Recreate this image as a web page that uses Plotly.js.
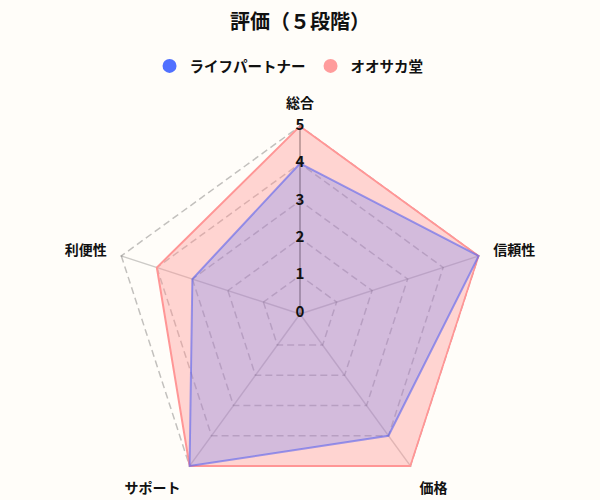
<!DOCTYPE html>
<html>
<head>
<meta charset="utf-8">
<script src="https://cdn.plot.ly/plotly-3.0.1.min.js"></script>
<style>
html,body{margin:0;padding:0;background:#fffdf9;overflow:hidden;width:600px;height:500px;}
#chart{width:600px;height:510px;}
</style>
</head>
<body>
<div id="chart"></div>
<script>
const categories = ['総合', '信頼性', '価格', 'サポート', '利便性'];
const lifePartner = [4, 5, 4, 5, 3];
const osakaDo = [5, 5, 5, 5, 4];
const seriesNames = ['ライフパートナー', 'オオサカ堂'];
const tickValues = [0, 1, 2, 3, 4, 5];
const tickLabels = ['0', '1', '2', '3', '4', '5'];

const FONT = '"Noto Sans CJK JP", "Noto Sans", sans-serif';
const closeLoop = a => a.concat([a[0]]);
const RANGE = [-0.03, 5.03];

const traces = [
  {
    type: 'scatterpolar', r: closeLoop(osakaDo), theta: closeLoop(categories),
    mode: 'lines', fill: 'toself', fillcolor: 'rgba(255,150,150,0.4)',
    line: {color: 'rgba(255,150,150,1)', width: 2}, showlegend: false, hoverinfo: 'skip'
  },
  {
    type: 'scatterpolar', r: closeLoop(lifePartner), theta: closeLoop(categories),
    mode: 'lines', fill: 'toself', fillcolor: 'rgba(80,110,255,0.25)',
    line: {color: 'rgba(90,100,240,0.6)', width: 2}, showlegend: false, hoverinfo: 'skip'
  },
  {
    type: 'scatterpolar', r: [null], theta: [null], mode: 'markers', name: seriesNames[0],
    marker: {color: '#5070ff', size: 14}
  },
  {
    type: 'scatterpolar', r: [null], theta: [null], mode: 'markers', name: seriesNames[1],
    marker: {color: '#ff9c9c', size: 14}
  },
  {
    type: 'scatterpolar', subplot: 'polar2',
    r: tickValues, theta: tickValues.map(() => categories[0]),
    mode: 'text', text: tickLabels, textposition: 'middle center',
    textfont: {family: FONT, size: 15, color: '#111', weight: 'bold'},
    showlegend: false, hoverinfo: 'skip', cliponaxis: false
  }
];

const layout = {
  width: 600, height: 510,
  paper_bgcolor: '#fffdf9', plot_bgcolor: '#fffdf9',
  margin: {l: 111, r: 111, t: 125, b: 7},
  font: {family: FONT, color: '#111'},
  title: {
    text: '評価（５段階）', x: 0.5, xanchor: 'center',
    y: 1 - 22 / 510, yref: 'container', yanchor: 'middle',
    font: {family: FONT, size: 20, color: '#111', weight: 'bold'}
  },
  legend: {
    orientation: 'h', x: 0.471, xanchor: 'center', y: (503 - 66) / 378, yanchor: 'middle',
    font: {family: FONT, size: 14.5, color: '#111', weight: 'bold'},
    itemclick: false, bgcolor: 'rgba(0,0,0,0)'
  },
  polar: {
    bgcolor: 'rgba(0,0,0,0)',
    gridshape: 'linear',
    domain: {x: [0, 1], y: [0, 1]},
    radialaxis: {
      range: RANGE, tickvals: tickValues, showticklabels: false, ticks: '',
      showline: true, linecolor: 'rgba(0,0,0,0.2)', linewidth: 1.5, angle: 90,
      gridcolor: 'rgba(0,0,0,0.24)', griddash: '7px,4px', gridwidth: 1.5
    },
    angularaxis: {
      type: 'category', categoryarray: categories, direction: 'clockwise', rotation: 90,
      showline: false, gridcolor: 'rgba(0,0,0,0.2)', gridwidth: 1.5,
      ticks: 'outside', ticklen: 11, tickcolor: 'rgba(0,0,0,0)',
      tickfont: {family: FONT, size: 14, color: '#111', weight: 'bold'}
    }
  },
  polar2: {
    bgcolor: 'rgba(0,0,0,0)',
    gridshape: 'circular',
    domain: {x: [0, 1], y: [0, 1]},
    radialaxis: {range: RANGE, visible: false, angle: 90},
    angularaxis: {
      type: 'category', categoryarray: categories, direction: 'clockwise', rotation: 90,
      visible: false
    }
  },
  showlegend: true
};

Plotly.newPlot('chart', traces, layout, {staticPlot: true, displayModeBar: false});
</script>
</body>
</html>
